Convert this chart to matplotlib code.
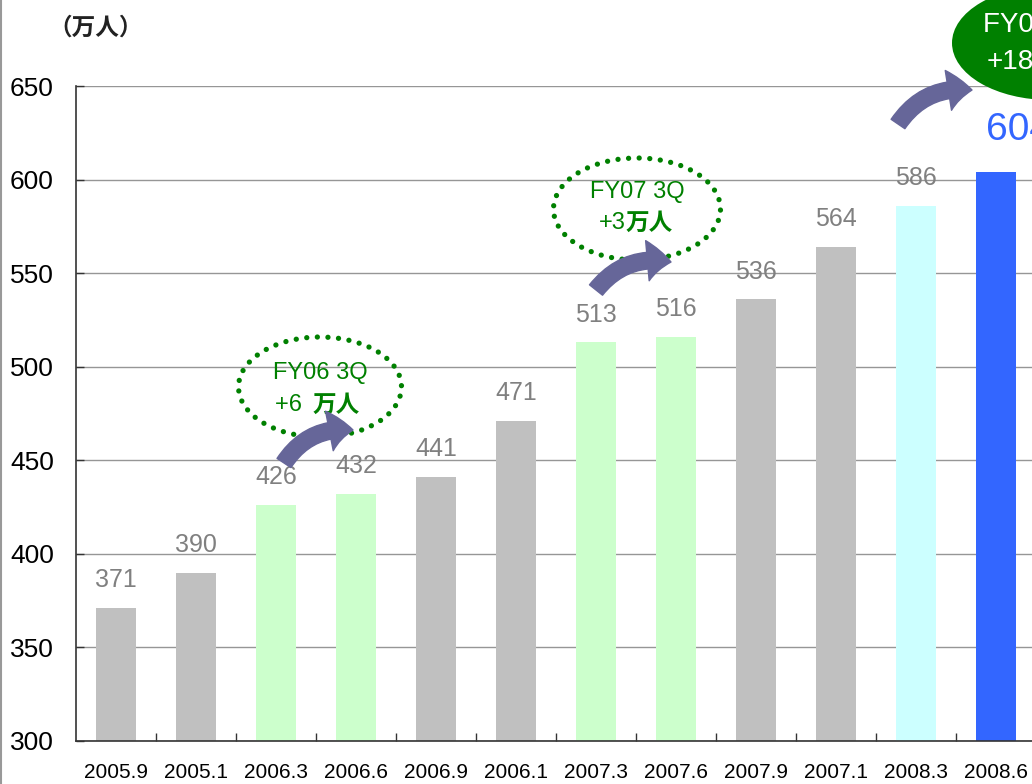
import matplotlib
matplotlib.use("Agg")
import matplotlib.pyplot as plt
from matplotlib.patches import Ellipse, FancyArrowPatch
from matplotlib.lines import Line2D

# ---- data ----
categories = ["2005.9", "2005.1", "2006.3", "2006.6", "2006.9", "2006.1",
              "2007.3", "2007.6", "2007.9", "2007.1", "2008.3", "2008.6"]
values = [371, 390, 426, 432, 441, 471, 513, 516, 536, 564, 586, 604]
bar_colors = ["#C0C0C0", "#C0C0C0", "#CCFFCC", "#CCFFCC", "#C0C0C0", "#C0C0C0",
              "#CCFFCC", "#CCFFCC", "#C0C0C0", "#C0C0C0", "#CCFFFF", "#3366FF"]
y_ticks = [300, 350, 400, 450, 500, 550, 600, 650]
unit_label = "（万人）"
callouts = [("FY06 3Q", "+6 ", "万人"), ("FY07 3Q", "+3", "万人"), ("FY08 1Q", "+18", "万人")]

W, H = 1032, 784
LAT = "Liberation Sans"
CJK = "Noto Sans CJK JP"
FAM = [LAT, CJK, "DejaVu Sans"]

fig = plt.figure(figsize=(W / 100, H / 100), dpi=100)
fig.patch.set_facecolor("white")


def P(x, y):
    return (x / W, 1 - y / H)


ax = fig.add_axes([76 / W, 1 - 741 / H, 960 / W, 655 / H])
x = list(range(len(categories)))
bars = ax.bar(x, values, width=0.51, color=bar_colors, zorder=3)
ax.set_xlim(-0.5, len(categories) - 0.5)
ax.set_ylim(300, 650)
ax.set_yticks(y_ticks)
ax.set_yticklabels([str(t) for t in y_ticks], fontsize=19, family=LAT)
ax.set_xticks(x)
ax.set_xticklabels(categories, fontsize=15, family=LAT)
ax.set_xticks([i + 0.5 for i in x[:-1]], minor=True)
ax.tick_params(axis="x", which="major", length=0, pad=16)
ax.tick_params(axis="x", which="minor", direction="in", length=6, width=1, color="#333333")
ax.tick_params(axis="y", which="major", direction="in", length=6, width=1, color="#333333", pad=16)
ax.grid(axis="y", color="#969696", linewidth=1, zorder=1)
ax.set_axisbelow(True)
for s in ["top", "right"]:
    ax.spines[s].set_visible(False)
for s in ["left", "bottom"]:
    ax.spines[s].set_color("#333333")
    ax.spines[s].set_linewidth(1.2)
    ax.spines[s].set_zorder(4)

# value labels
for i, v in enumerate(values[:-1]):
    ax.annotate(str(v), xy=(i, v), xytext=(0, 15), textcoords="offset points",
                ha="center", va="baseline", fontsize=18, color="#808080", family=LAT)
ax.annotate(str(values[-1]), xy=(x[-1], values[-1]), xytext=(16, 23), textcoords="offset points",
            ha="center", va="baseline", fontsize=28, color="#3366FF", family=LAT,
            annotation_clip=False)

# unit label
fig.text(*P(96, 28), unit_label, ha="center", va="center", fontsize=17,
         family=CJK, fontweight="bold", color="#222222")

# dotted ellipses
for (cx, cy, w, h) in [(320, 387, 163, 100), (637, 209, 167, 102)]:
    e = Ellipse(P(cx, cy), w / W, h / H, transform=fig.transFigure, fill=False,
                edgecolor="#008000", linewidth=3.8, linestyle=(0, (0.01, 2.0)),
                capstyle="round", zorder=6)
    fig.add_artist(e)

# filled ellipse
e3 = Ellipse(P(1050, 43), 196 / W, 114 / H, transform=fig.transFigure,
             facecolor="#008000", edgecolor="none", zorder=6)
fig.add_artist(e3)

# callout texts
green = "#008000"
t1, n1, u1 = callouts[0]
fig.text(*P(320, 373), t1, ha="center", va="center", fontsize=17, color=green, family=FAM, zorder=7)
fig.text(*P(309, 405), n1, ha="right", va="center", fontsize=17, color=green, family=FAM, zorder=7)
fig.text(*P(313, 405), u1, ha="left", va="center", fontsize=17, color=green, family=CJK,
         fontweight="bold", zorder=7)

t2, n2, u2 = callouts[1]
fig.text(*P(637, 192), t2, ha="center", va="center", fontsize=17, color=green, family=FAM, zorder=7)
fig.text(*P(626, 223), n2, ha="right", va="center", fontsize=17, color=green, family=FAM, zorder=7)
fig.text(*P(626, 223), u2, ha="left", va="center", fontsize=17, color=green, family=CJK,
         fontweight="bold", zorder=7)

t3, n3, u3 = callouts[2]
fig.text(*P(983, 25), t3, ha="left", va="center", fontsize=20, color="white", family=FAM, zorder=7)
fig.text(*P(987, 62), n3, ha="left", va="center", fontsize=20, color="white", family=FAM, zorder=7)
fig.text(*P(1036, 62), u3, ha="left", va="center", fontsize=20, color="white", family=CJK,
         fontweight="bold", zorder=7)

# curved block arrows
for (x0, y0, x1, y1) in [(284, 463, 353, 430), (596, 290, 671, 262), (898, 124, 972, 90)]:
    a = FancyArrowPatch(P(x0, y0), P(x1, y1), transform=fig.transFigure,
                        connectionstyle="arc3,rad=-0.3",
                        arrowstyle="simple,head_length=0.85,head_width=1.45,tail_width=0.6",
                        mutation_scale=20, color="#666699", shrinkA=0, shrinkB=0, zorder=8)
    fig.add_artist(a)

# left frame line
fig.add_artist(Line2D([0.0008, 0.0008], [0, 1], transform=fig.transFigure, color="#999999", linewidth=1.5))

fig.savefig("out.png", dpi=100)
